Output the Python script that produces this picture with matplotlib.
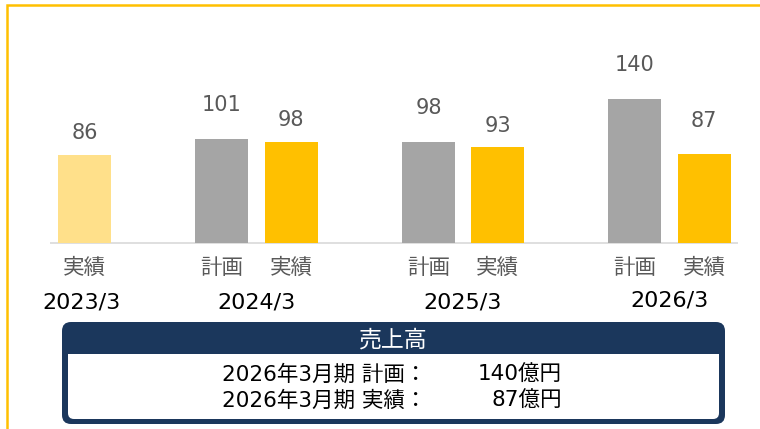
import matplotlib
matplotlib.use("Agg")
import matplotlib.pyplot as plt
from matplotlib.patches import FancyBboxPatch, Rectangle

plt.rcParams['font.family'] = ['DejaVu Sans', 'Noto Sans CJK JP']

years = ['2023/3', '2024/3', '2025/3', '2026/3']
plan = [None, 101, 98, 140]
actual = [86, 98, 93, 87]
plan_label = '計画'
actual_label = '実績'
box_title = '売上高'
box_left = ['2026年3月期 計画：', '2026年3月期 実績：']
box_right = ['140億円', '87億円']

# label gaps (pixels above bar top), styling only
plan_gap = [0, 34, 34, 34]
actual_gap = [22, 22, 21, 33]

W, H = 760, 429
fig = plt.figure(figsize=(W / 100, H / 100), dpi=100)

ax_left, ax_right, ax_base, ax_top = 50, 738, 243, 20
ax = fig.add_axes([ax_left / W, (H - ax_base) / H, (ax_right - ax_left) / W, (ax_base - ax_top) / H])
grp = 206.5
off = 34.5 / grp
bw = 53 / grp
ax.set_xlim(0, (ax_right - ax_left) / grp)
ax.set_ylim(0, (ax_base - ax_top) / (144 / 140))
ax.axis('off')

gray = '#A5A5A5'
gold = '#FFC000'
light = '#FFE08A'
txt_gray = '#595959'

lab_y = (ax_base - 268) / (ax_base - ax_top)
yr_y = (ax_base - 303) / (ax_base - ax_top)
xt = ax.get_xaxis_transform()
cjk = ['Noto Sans CJK JP']

for g, yr in enumerate(years):
    p = plan[g]
    a = actual[g]
    if p is not None:
        ax.bar(g - off, p, width=bw, color=gray)
        ax.annotate(f'{p}', (g - off, p), xytext=(0, plan_gap[g]), textcoords='offset pixels',
                    ha='center', va='center', fontsize=15, color=txt_gray)
        ax.text(g - off, lab_y, plan_label, transform=xt, ha='center', va='center',
                fontsize=15.5, color=txt_gray, family=cjk)
    col = light if p is None else gold
    ax.bar(g + off, a, width=bw, color=col)
    ax.annotate(f'{a}', (g + off, a), xytext=(0, actual_gap[g]), textcoords='offset pixels',
                ha='center', va='center', fontsize=15, color=txt_gray)
    ax.text(g + off, lab_y, actual_label, transform=xt, ha='center', va='center',
            fontsize=15.5, color=txt_gray, family=cjk)
    yx = g + off - 0.015 if p is None else g
    yy = yr_y + (3 / (ax_base - ax_top) if g == 3 else 0)
    ax.text(yx, yy, yr, transform=xt, ha='center', va='center', fontsize=16, color='black')

# overlay in pixel coords
ov = fig.add_axes([0, 0, 1, 1], zorder=-1)
ov.set_xlim(0, W)
ov.set_ylim(H, 0)
ov.axis('off')
ov.plot([ax_left, ax_right], [ax_base, ax_base], color='#D9D9D9', lw=1.2, solid_capstyle='butt')
ov.plot([7, 7, W + 2], [H + 2, 5, 5], color=gold, lw=1.8, solid_joinstyle='miter')

ov2 = fig.add_axes([0, 0, 1, 1], zorder=5)
ov2.set_xlim(0, W)
ov2.set_ylim(H, 0)
ov2.axis('off')
navy = '#1B375C'
ov2.add_patch(FancyBboxPatch((62, 322), 663, 102, boxstyle='round,pad=0,rounding_size=9',
                             facecolor=navy, edgecolor='none'))
ov2.add_patch(FancyBboxPatch((68, 354), 651, 65, boxstyle='round,pad=0,rounding_size=6',
                             facecolor='white', edgecolor='none'))
ov2.add_patch(Rectangle((68, 354), 651, 8, facecolor='white', edgecolor='none'))
ov2.text(393, 340, box_title, ha='center', va='center', fontsize=16.5, color='white',
         family=cjk)
for i, yline in enumerate([375, 401]):
    ov2.text(222, yline, box_left[i], ha='left', va='center', fontsize=15.5, color='black')
    ov2.text(562, yline, box_right[i], ha='right', va='center', fontsize=15.5, color='black')

fig.savefig('out.png', dpi=100)
